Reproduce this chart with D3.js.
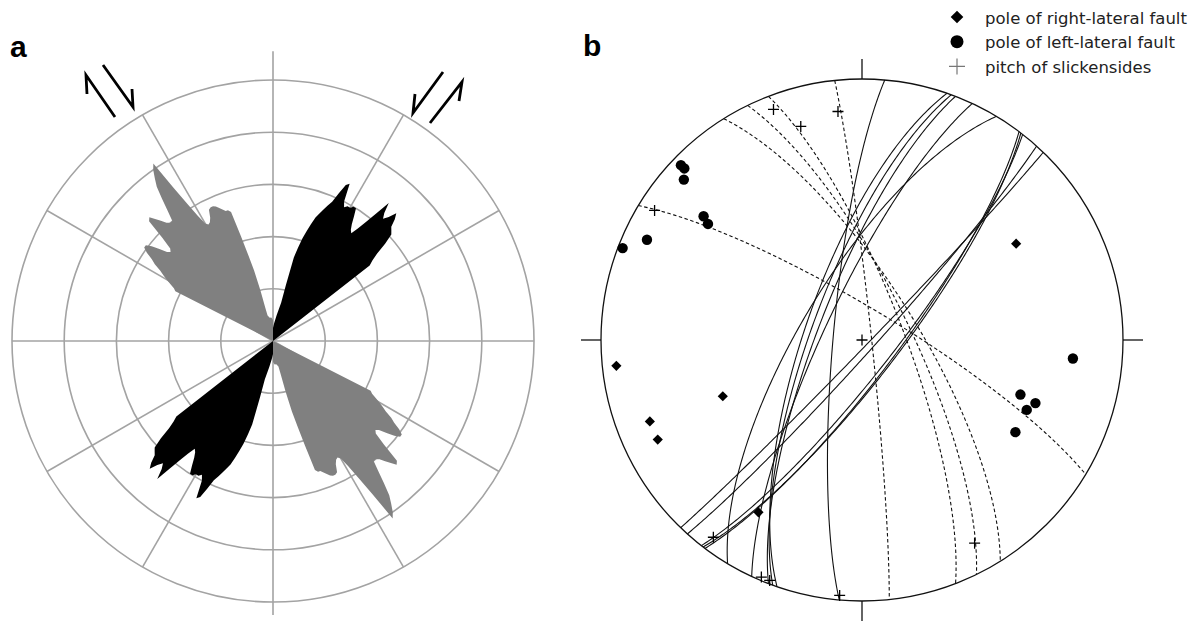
<!DOCTYPE html>
<html><head><meta charset="utf-8">
<script src="https://cdn.jsdelivr.net/npm/d3@7"></script>
<style>body{margin:0;background:#fff}svg{display:block}</style>
</head><body>
<svg id="chart" width="1193" height="623"></svg>
<script>
// ---------------- DATA ----------------
// Panel a: rose of fault strikes (angle from north, deg; length as fraction of outer ring)
const blackAngles = [0, 4, 8, 12, 13, 14, 15, 16, 17, 18, 19, 20, 21, 22, 23, 24, 25, 26, 27, 28, 29, 30, 31, 32, 33, 34, 35, 36, 37, 38, 39, 40, 41, 42, 43, 44, 45, 46, 47, 48, 49, 50, 51, 52];
const blackLengths = [0.05, 0.07, 0.1, 0.15, 0.22, 0.33, 0.37, 0.41, 0.44, 0.47, 0.5, 0.52, 0.54, 0.56, 0.58, 0.62, 0.66, 0.67, 0.6, 0.58, 0.59, 0.59, 0.6, 0.6, 0.57, 0.54, 0.52, 0.51, 0.54, 0.58, 0.63, 0.69, 0.65, 0.63, 0.65, 0.68, 0.66, 0.63, 0.62, 0.61, 0.57, 0.52, 0.49, 0.47];
const grayAngles = [0, -4, -8, -12, -13, -14, -15, -16, -17, -18, -19, -20, -21, -22, -23, -24, -25, -26, -27, -28, -29, -30, -31, -32, -33, -34, -35, -36, -37, -38, -39, -40, -41, -42, -43, -44, -45, -46, -47, -48, -49, -50, -51, -52, -53, -54, -55, -56, -57, -58, -59, -60, -61, -62, -63];
const grayLengths = [0.08, 0.09, 0.09, 0.1, 0.13, 0.2, 0.28, 0.34, 0.42, 0.52, 0.53, 0.53, 0.54, 0.55, 0.56, 0.565, 0.565, 0.56, 0.53, 0.515, 0.51, 0.52, 0.56, 0.62, 0.7, 0.82, 0.8, 0.77, 0.74, 0.69, 0.64, 0.6, 0.6, 0.61, 0.63, 0.65, 0.67, 0.66, 0.58, 0.53, 0.52, 0.53, 0.56, 0.59, 0.61, 0.61, 0.59, 0.56, 0.54, 0.51, 0.49, 0.47, 0.45, 0.43, 0.42];
const ringValues = [0.2, 0.4, 0.6, 0.8, 1.0];
const spokeAngles = [0, 30, 60, 90, 120, 150];

// Panel b: lower-hemisphere equal-area stereonet (planes as dip direction / dip)
const solidDipDir = [275, 289, 290, 291, 295, 301, 134, 132, 128, 127.5, 127];
const solidDip    = [81, 72, 74, 76, 78, 71, 88, 86, 80, 78.5, 79];
const dashedDipDir = [84, 69, 64, 58, 31];
const dashedDip    = [87, 77, 75, 73, 80];
const rightPoleTrend  = [58, 264, 248, 249, 244, 211];
const rightPolePlunge = [31, 6, 42, 14, 14, 24];
const leftPoleTrend  = [314, 314, 312, 308, 307, 295, 291, 95, 109, 110, 113, 121];
const leftPolePlunge = [4, 6, 9, 24, 27, 10, 2, 20, 36, 30, 32, 32];
const slickTrend  = [339, 354, 344, 302, 180, 217, 151, 203, 201, 185];
const slickPlunge = [6, 13, 16, 7, 90, 6, 12, 1.5, 1.5, 2];
const legendLabels = ["pole of right-lateral fault", "pole of left-lateral fault", "pitch of slickensides"];

// ---------------- LAYOUT ----------------
const svg = d3.select("#chart");
const rad = Math.PI / 180;
const A = {cx: 273, cy: 341, R: 261};
const B = {cx: 862, cy: 340, R: 261};

// ---------------- PANEL A ----------------
const ga = svg.append("g").attr("transform", `translate(${A.cx},${A.cy})`);
const rScale = d3.scaleLinear().domain([0, 1]).range([0, A.R]);
const gridCol = "#a3a3a3";
ga.selectAll("circle.ring").data(ringValues).join("circle")
  .attr("r", d => rScale(d)).attr("fill", "none").attr("stroke", gridCol).attr("stroke-width", 1.6);
ga.selectAll("line.spoke").data(spokeAngles).join("line")
  .attr("x1", d => rScale(d === 0 ? 1.11 : 1) * Math.sin(d * rad))
  .attr("y1", d => -rScale(d === 0 ? 1.11 : 1) * Math.cos(d * rad))
  .attr("x2", d => -rScale(d === 0 ? 1.05 : 1) * Math.sin(d * rad))
  .attr("y2", d => rScale(d === 0 ? 1.05 : 1) * Math.cos(d * rad))
  .attr("stroke", gridCol).attr("stroke-width", 1.6);

const radial = d3.lineRadial().curve(d3.curveLinear);
function petal(angles, lengths, offset) {
  const pts = [[0, 0]];
  angles.forEach((a, i) => pts.push([(a + offset) * rad, rScale(lengths[i])]));
  pts.push([0, 0]);
  return radial(pts) + "Z";
}
[0, 180].forEach(off => {
  ga.append("path").attr("d", petal(grayAngles, grayLengths, off)).attr("fill", "#808080");
  ga.append("path").attr("d", petal(blackAngles, blackLengths, off)).attr("fill", "#000");
});

// shear-sense half arrows (annotation)
const arrows = [
  {x1: 115, y1: 117, x2: 86, y2: 75, bx: 87, by: 94},
  {x1: 103, y1: 65, x2: 133, y2: 107, bx: 132, by: 89},
  {x1: 443, y1: 72, x2: 413, y2: 113, bx: 415, by: 94},
  {x1: 430, y1: 123, x2: 462, y2: 82, bx: 459, by: 101}
];
svg.selectAll("path.arrow").data(arrows).join("path")
  .attr("d", d => `M${d.x1},${d.y1}L${d.x2},${d.y2}L${d.bx},${d.by}`)
  .attr("fill", "none").attr("stroke", "#000").attr("stroke-width", 2.8)
  .attr("stroke-linejoin", "miter");

svg.append("text").attr("x", 10).attr("y", 57).text("a")
  .attr("font-family", "Liberation Sans, Arial, sans-serif").attr("font-weight", "bold").attr("font-size", 30);

// ---------------- PANEL B ----------------
const gb = svg.append("g").attr("transform", `translate(${B.cx},${B.cy})`);
const sx = d3.scaleLinear().domain([-1, 1]).range([-B.R, B.R]);
function proj(trend, plunge) {
  const r = Math.SQRT2 * Math.sin((90 - plunge) / 2 * rad);
  return [sx(r * Math.sin(trend * rad)), sx(-r * Math.cos(trend * rad))];
}
function greatCircle(dd, dip) {
  const s = (dd - 90) * rad, d = dd * rad, dp = dip * rad;
  const sv = [Math.sin(s), Math.cos(s), 0];
  const dv = [Math.cos(dp) * Math.sin(d), Math.cos(dp) * Math.cos(d), Math.sin(dp)];
  const pts = [];
  for (let t = 0; t <= 180; t += 1) {
    const c = Math.cos(t * rad), sn = Math.sin(t * rad);
    const v = [c * sv[0] + sn * dv[0], c * sv[1] + sn * dv[1], c * sv[2] + sn * dv[2]];
    const pl = Math.asin(Math.min(1, Math.max(-1, v[2]))) / rad;
    const tr = Math.atan2(v[0], v[1]) / rad;
    pts.push(proj(tr, pl));
  }
  return pts;
}
const line = d3.line();
gb.selectAll("path.solid").data(solidDipDir).join("path")
  .attr("d", (d, i) => line(greatCircle(d, solidDip[i])))
  .attr("fill", "none").attr("stroke", "#111").attr("stroke-width", 1.1);
gb.selectAll("path.dashed").data(dashedDipDir).join("path")
  .attr("d", (d, i) => line(greatCircle(d, dashedDip[i])))
  .attr("fill", "none").attr("stroke", "#111").attr("stroke-width", 1.1).attr("stroke-dasharray", "3.5,2.5");

gb.append("circle").attr("r", B.R).attr("fill", "none").attr("stroke", "#111").attr("stroke-width", 1.3);
const tk = 20;
[[0, -B.R, 0, -B.R - tk], [0, B.R, 0, B.R + tk], [-B.R, 0, -B.R - tk, 0], [B.R, 0, B.R + tk, 0]].forEach(t =>
  gb.append("line").attr("x1", t[0]).attr("y1", t[1]).attr("x2", t[2]).attr("y2", t[3]).attr("stroke", "#111").attr("stroke-width", 1.3));

const sq = d3.symbol().type(d3.symbolSquare).size(52);
gb.selectAll("path.rp").data(rightPoleTrend).join("path")
  .attr("d", sq()).attr("transform", (d, i) => { const p = proj(d, rightPolePlunge[i]); return `translate(${p[0]},${p[1]}) rotate(45)`; })
  .attr("fill", "#000");
gb.selectAll("circle.lp").data(leftPoleTrend).join("circle")
  .attr("cx", (d, i) => proj(d, leftPolePlunge[i])[0]).attr("cy", (d, i) => proj(d, leftPolePlunge[i])[1])
  .attr("r", 5.2).attr("fill", "#000");
gb.selectAll("path.sl").data(slickTrend).join("path")
  .attr("d", "M-5.5,0H5.5M0,-5.5V5.5")
  .attr("transform", (d, i) => { const p = proj(d, slickPlunge[i]); return `translate(${p[0]},${p[1]})`; })
  .attr("stroke", "#000").attr("stroke-width", 1.3);

svg.append("text").attr("x", 583).attr("y", 56).text("b")
  .attr("font-family", "Liberation Sans, Arial, sans-serif").attr("font-weight", "bold").attr("font-size", 30);

// legend
const lg = svg.append("g").attr("transform", "translate(957,17)");
const lgRows = lg.selectAll("g").data(legendLabels).join("g").attr("transform", (d, i) => `translate(0,${i * 24.7})`);
lgRows.append("text").attr("x", 28).attr("y", 6.5).text(d => d)
  .attr("font-family", "DejaVu Sans, Verdana, sans-serif").attr("font-size", 16.5).attr("fill", "#222");
lgRows.filter((d, i) => i === 0).append("path").attr("d", d3.symbol().type(d3.symbolSquare).size(80)()).attr("transform", "rotate(45)").attr("fill", "#000");
lgRows.filter((d, i) => i === 1).append("circle").attr("r", 6.5).attr("fill", "#000");
lgRows.filter((d, i) => i === 2).append("path").attr("d", "M-8,0H8M0,-8V8").attr("stroke", "#777").attr("stroke-width", 1.2);
</script>
</body></html>
